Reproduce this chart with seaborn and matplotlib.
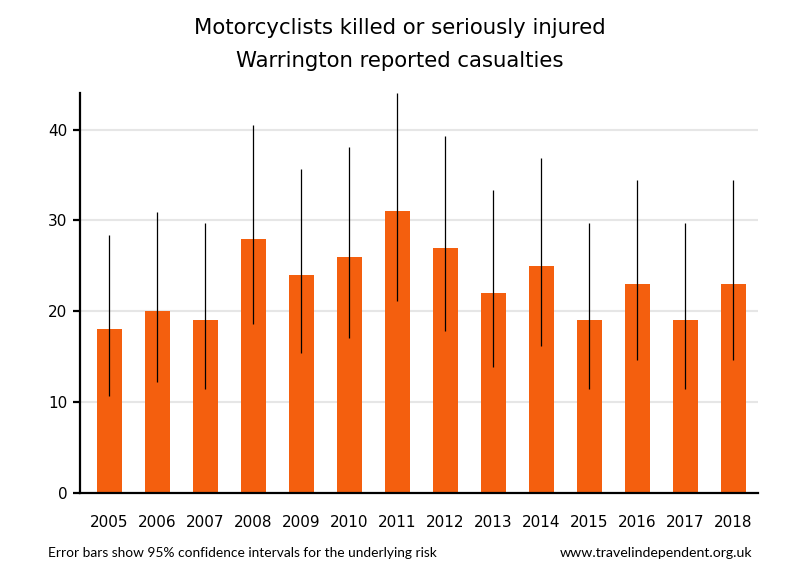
import matplotlib
matplotlib.use("Agg")
import matplotlib.pyplot as plt
import seaborn as sns
import pandas as pd

years = ["2005", "2006", "2007", "2008", "2009", "2010", "2011",
         "2012", "2013", "2014", "2015", "2016", "2017", "2018"]
casualties = [18, 20, 19, 28, 24, 26, 31, 27, 22, 25, 19, 23, 19, 23]
ci_low = [10.7, 12.2, 11.4, 18.6, 15.4, 17.0, 21.1, 17.8, 13.8, 16.2, 11.4, 14.6, 11.4, 14.6]
ci_high = [28.4, 30.9, 29.7, 40.5, 35.7, 38.1, 44.0, 39.3, 33.3, 36.9, 29.7, 34.5, 29.7, 34.5]

df = pd.DataFrame({"year": years, "killed": casualties})

sns.set_style("white")
plt.rcParams["font.family"] = ["DejaVu Sans"]
plt.rcParams["text.color"] = "black"
plt.rcParams["xtick.color"] = "black"
plt.rcParams["ytick.color"] = "black"

fig = plt.figure(figsize=(8, 5.8), dpi=100)
ax = fig.add_axes([0.1, 0.1505, 0.8475, 0.6885])

sns.barplot(data=df, x="year", y="killed", color="#F45F0E", saturation=1,
            width=0.52, linewidth=0, ax=ax, zorder=2)
ax.vlines(range(len(years)), ci_low, ci_high, color="black", lw=0.9, zorder=3)

ax.set_xlim(-0.615, 13.52)
ax.set_ylim(0, 44)
ax.set_yticks([0, 10, 20, 30, 40])
for v in [10, 20, 30, 40]:
    ax.axhline(v, color="#E6E6E6", lw=1.5, zorder=0)

ax.set_xlabel("")
ax.set_ylabel("")
sns.despine(ax=ax)
for s in ["left", "bottom"]:
    ax.spines[s].set_linewidth(1.6)
    ax.spines[s].set_color("black")
ax.tick_params(axis="x", length=0, pad=16, labelsize=11)
ax.tick_params(axis="y", length=5, width=1.6, pad=4, labelsize=11, left=True)

fig.text(0.5, 0.952, "Motorcyclists killed or seriously injured", ha="center",
         va="center", fontsize=15.3)
fig.text(0.5, 0.895, "Warrington reported casualties", ha="center",
         va="center", fontsize=15.3)

fig.text(0.06, 0.046, "Error bars show 95% confidence intervals for the underlying risk",
         ha="left", va="center", fontsize=9.9, family="Lato")
fig.text(0.94, 0.046, "www.travelindependent.org.uk", ha="right", va="center",
         fontsize=10.2, family="Lato")

fig.savefig("out.png", dpi=100)
